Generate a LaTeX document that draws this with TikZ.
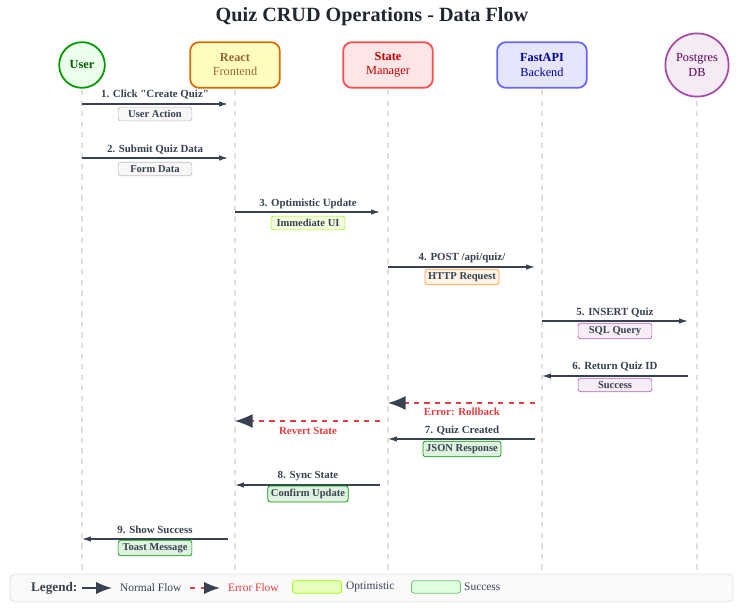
\documentclass[tikz,border=0pt]{standalone}
\usepackage{fontspec}
\setmainfont{Liberation Serif}
\usetikzlibrary{arrows.meta,positioning}
\definecolor{ink}{HTML}{374151}
\definecolor{errred}{HTML}{E53E3E}
\colorlet{tgray}{gray!50}
\colorlet{tlime}{lime!80!green}
\colorlet{torange}{orange!80}
\colorlet{tviolet}{violet!60}
\colorlet{tgreen}{green!60!black}
\tikzset{
  actor/.style={draw, line width=1pt, rounded corners=5pt, minimum width=51pt, minimum height=26pt, align=center, font=\fontsize{7}{8}\selectfont},
  life/.style={draw=gray!25, dashed, line width=0.7pt},
  msg/.style={draw=ink, line width=0.6pt, -{Latex[length=5pt,width=3pt]}},
  errmsg/.style={draw=errred, dashed, line width=0.8pt, -{Latex[length=10pt,width=8pt,fill=ink,color=ink]}},
  lbl/.style={font=\fontsize{6.2}{7}\selectfont\bfseries, text=ink, inner sep=1pt},
  tag/.style={draw=#1, fill=#1!12, rounded corners=1.5pt, font=\fontsize{6}{7}\selectfont\bfseries, text=ink, inner sep=1.8pt, minimum width=42pt}
}
\begin{document}
\begin{tikzpicture}[x=0.02cm,y=-0.02cm]
  \useasboundingbox (0,0) rectangle (745,608);
  % title
  \node[font=\fontsize{11.5}{13}\selectfont\bfseries, text=ink!60!black] (title) at (372,17) {Quiz CRUD Operations - Data Flow};

  % lifelines
  \foreach \x in {82,235,388,542,697}
    \draw[life] (\x,90) -- (\x,572);

  % participants
  \node[actor, circle, minimum width=26pt, draw=green!60!black, fill=green!8, text=green!35!black, font=\fontsize{7}{8}\selectfont\bfseries] (user) at (82,65) {User};
  \node[actor, draw=orange!85!black, fill=yellow!25, text=brown!80!black] (react) at (235,65) {\textbf{React}\\Frontend};
  \node[actor, draw=red!70, fill=red!10, text=red!75!black] (state) at (388,65) {\textbf{State}\\Manager};
  \node[actor, draw=blue!60, fill=blue!10, text=blue!60!black] (api) at (542,65) {\textbf{FastAPI}\\Backend};
  \node[actor, circle, minimum width=36pt, draw=violet!70, fill=violet!8, text=violet!70!black] (db) at (697,65) {Postgres\\DB};

  % 1
  \coordinate (u1) at (82,104); \coordinate (r1) at (228,104);
  \draw[msg] (u1) -- (r1);
  \node[lbl] (l1) at (155,95) {1. Click \textquotedbl Create Quiz\textquotedbl};
  \node[tag=tgray] (t1) at (155,114) {User Action};
  % 2
  \coordinate (u2) at (82,158); \coordinate (r2) at (228,158);
  \draw[msg] (u2) -- (r2);
  \node[lbl] (l2) at (155,150) {2. Submit Quiz Data};
  \node[tag=tgray] (t2) at (155,169) {Form Data};
  % 3
  \coordinate (r3) at (235,212); \coordinate (s3) at (380,212);
  \draw[msg] (r3) -- (s3);
  \node[lbl] (l3) at (308,204) {3. Optimistic Update};
  \node[tag=tlime] (t3) at (308,223) {Immediate UI};
  % 4
  \coordinate (s4) at (388,267); \coordinate (a4) at (535,267);
  \draw[msg] (s4) -- (a4);
  \node[lbl] (l4) at (462,258) {4. POST /api/quiz/};
  \node[tag=torange] (t4) at (462,277) {HTTP Request};
  % 5
  \coordinate (a5) at (542,321); \coordinate (d5) at (688,321);
  \draw[msg] (a5) -- (d5);
  \node[lbl] (l5) at (615,313) {5. INSERT Quiz};
  \node[tag=tviolet] (t5) at (615,331) {SQL Query};
  % 6
  \coordinate (d6) at (688,376); \coordinate (a6) at (542,376);
  \draw[msg] (d6) -- (a6);
  \node[lbl] (l6) at (615,367) {6. Return Quiz ID};
  \node[tag=tviolet] (t6) at (615,385) {Success};
  % error flow
  \coordinate (a7) at (535,403); \coordinate (s7) at (388,403);
  \draw[errmsg] (a7) -- (s7);
  \node[lbl, text=errred] (le) at (462,412) {Error: Rollback};
  \coordinate (s8) at (380,421); \coordinate (r8) at (235,421);
  \draw[errmsg] (s8) -- (r8);
  \node[lbl, text=errred] (lr) at (308,431) {Revert State};
  % 7
  \coordinate (a9) at (535,439); \coordinate (s9) at (388,439);
  \draw[msg] (a9) -- (s9);
  \node[lbl] (l7) at (462,431) {7. Quiz Created};
  \node[tag=tgreen] (t7) at (462,449) {JSON Response};
  % 8
  \coordinate (s10) at (380,485); \coordinate (r10) at (235,485);
  \draw[msg] (s10) -- (r10);
  \node[lbl] (l8) at (308,476) {8. Sync State};
  \node[tag=tgreen] (t8) at (308,494) {Confirm Update};
  % 9
  \coordinate (r11) at (228,539); \coordinate (u11) at (82,539);
  \draw[msg] (r11) -- (u11);
  \node[lbl] (l9) at (155,530) {9. Show Success};
  \node[tag=tgreen] (t9) at (155,548) {Toast Message};

  % legend
  \draw[draw=gray!25, fill=gray!4, rounded corners=3pt] (10,574) rectangle (733,602);
  \node[font=\fontsize{7.5}{8}\selectfont\bfseries, text=ink, anchor=west] (leg) at (25,588) {Legend:};
  \coordinate (n1) at (82,588); \coordinate (n2) at (112,588);
  \draw[draw=ink, line width=1pt, -{Latex[length=9pt,width=7pt]}] (n1) -- (n2);
  \node[font=\fontsize{6.5}{7}\selectfont, text=ink, anchor=west] (legn) at (114,588) {Normal Flow};
  \coordinate (e1) at (190,588); \coordinate (e2) at (220,588);
  \draw[draw=errred, dashed, line width=1pt, -{Latex[length=9pt,width=7pt,fill=ink,color=ink]}] (e1) -- (e2);
  \node[font=\fontsize{6.5}{7}\selectfont, text=errred, anchor=west] (lege) at (222,588) {Error Flow};
  \node[draw=tlime, fill=tlime!25, rounded corners=1.5pt, minimum width=28pt, minimum height=7pt] (sw1) at (317,587) {};
  \node[font=\fontsize{6.5}{7}\selectfont, text=ink, anchor=west] (lego) at (340,587) {Optimistic};
  \node[draw=tgreen!60, fill=green!12, rounded corners=1.5pt, minimum width=28pt, minimum height=7pt] (sw2) at (436,587) {};
  \node[font=\fontsize{6.5}{7}\selectfont, text=ink, anchor=west] (legs) at (458,587) {Success};
\end{tikzpicture}
\end{document}
